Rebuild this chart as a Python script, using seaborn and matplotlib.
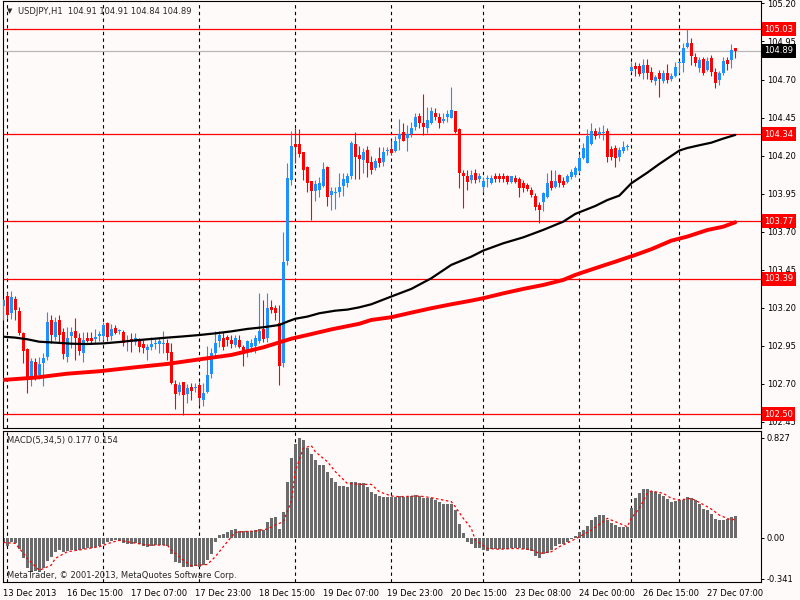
import numpy as np
import matplotlib
matplotlib.use('Agg')
import matplotlib.pyplot as plt
import matplotlib.transforms as mtransforms
import seaborn as sns

# USDJPY H1 candles (one value per bar)
opens = [103.210, 103.277, 103.168, 103.258, 103.181, 103.032, 102.927, 102.736, 102.846, 102.758,
         102.839, 102.879, 103.120, 103.006, 103.120, 103.041, 102.879, 103.014, 103.047, 102.999,
         102.905, 103.001, 103.001, 102.993, 103.012, 103.014, 103.102, 103.014, 103.065, 103.045,
         103.041, 102.979, 102.993, 102.977, 102.984, 102.962, 102.923, 102.945, 102.964, 102.960,
         102.960, 102.966, 102.910, 102.697, 102.647, 102.712, 102.634, 102.682, 102.671, 102.693,
         102.594, 102.647, 102.765, 102.901, 102.980, 103.004, 103.006, 102.988, 102.955, 102.988,
         102.940, 102.910, 102.945, 102.949, 102.982, 103.058, 102.999, 103.207, 103.196, 103.100,
         102.840, 103.510, 104.040, 104.277, 104.277, 104.226, 104.123, 104.033, 103.968, 103.974,
         104.001, 104.123, 103.941, 103.952, 103.961, 104.001, 104.018, 104.066, 104.277, 104.204,
         104.171, 104.237, 104.160, 104.117, 104.182, 104.160, 104.232, 104.241, 104.231, 104.312,
         104.353, 104.314, 104.340, 104.390, 104.460, 104.417, 104.379, 104.412, 104.478, 104.452,
         104.430, 104.452, 104.449, 104.493, 104.373, 104.088, 104.066, 104.040, 104.084, 104.044,
         103.992, 104.046, 104.022, 104.066, 104.066, 104.066, 104.066, 104.029, 104.053, 104.044,
         104.018, 104.007, 103.974, 103.935, 103.876, 103.897, 103.930, 104.036, 103.992, 104.073,
         104.036, 104.029, 104.062, 104.073, 104.101, 104.182, 104.154, 104.274, 104.362, 104.342,
         104.350, 104.362, 104.241, 104.248, 104.193, 104.233, 104.257, 104.758, 104.789, 104.789,
         104.741, 104.795, 104.752, 104.692, 104.745, 104.692, 104.745, 104.701, 104.723, 104.808,
         104.806, 104.916, 104.938, 104.850, 104.773, 104.833, 104.763, 104.839, 104.752, 104.697,
         104.745, 104.828, 104.828, 104.910]
highs = [103.260, 103.306, 103.310, 103.277, 103.207, 103.043, 102.934, 102.868, 102.872, 102.874,
         102.901, 103.172, 103.153, 103.142, 103.153, 103.065, 103.076, 103.076, 103.131, 103.036,
         103.043, 103.043, 103.041, 103.058, 103.045, 103.109, 103.109, 103.091, 103.087, 103.061,
         103.052, 103.021, 103.036, 103.032, 102.999, 102.988, 102.962, 103.006, 102.993, 103.010,
         103.049, 102.993, 102.966, 102.726, 102.715, 102.712, 102.699, 102.704, 102.704, 102.715,
         102.704, 102.949, 102.934, 103.049, 103.047, 103.043, 103.021, 103.021, 103.021, 103.021,
         102.955, 102.988, 102.993, 103.021, 103.295, 103.251, 103.295, 103.251, 103.218, 103.220,
         103.700, 104.150, 104.362, 104.379, 104.375, 104.226, 104.132, 104.033, 104.040, 104.062,
         104.160, 104.132, 103.996, 103.992, 104.084, 104.084, 104.084, 104.296, 104.353, 104.263,
         104.248, 104.263, 104.198, 104.182, 104.259, 104.259, 104.259, 104.303, 104.329, 104.441,
         104.417, 104.401, 104.419, 104.482, 104.482, 104.605, 104.522, 104.522, 104.511, 104.482,
         104.482, 104.500, 104.649, 104.493, 104.379, 104.106, 104.106, 104.106, 104.110, 104.088,
         104.062, 104.073, 104.073, 104.084, 104.084, 104.084, 104.073, 104.066, 104.073, 104.062,
         104.040, 104.022, 103.992, 103.952, 103.897, 103.963, 104.088, 104.106, 104.106, 104.079,
         104.062, 104.079, 104.110, 104.132, 104.211, 104.285, 104.373, 104.412, 104.379, 104.390,
         104.401, 104.384, 104.263, 104.270, 104.259, 104.298, 104.274, 104.817, 104.817, 104.806,
         104.833, 104.833, 104.780, 104.730, 104.763, 104.763, 104.802, 104.745, 104.817, 104.824,
         104.938, 105.030, 104.971, 104.872, 104.846, 104.846, 104.850, 104.861, 104.774, 104.758,
         104.846, 104.846, 104.933, 104.910]
lows = [103.120, 103.131, 103.124, 103.120, 103.021, 102.835, 102.638, 102.686, 102.726, 102.730,
        102.686, 102.857, 102.966, 102.988, 102.977, 102.866, 102.846, 102.934, 102.857, 102.890,
        102.846, 102.977, 102.966, 102.966, 102.982, 102.988, 102.984, 102.988, 103.028, 103.028,
        102.949, 102.918, 102.907, 102.956, 102.912, 102.901, 102.857, 102.923, 102.927, 102.901,
        102.901, 102.857, 102.697, 102.533, 102.627, 102.496, 102.577, 102.594, 102.649, 102.561,
        102.555, 102.638, 102.736, 102.879, 102.945, 102.923, 102.949, 102.934, 102.940, 102.934,
        102.818, 102.879, 102.912, 102.905, 102.966, 102.977, 102.977, 103.164, 103.120, 102.690,
        102.810, 103.480, 104.007, 104.154, 104.193, 104.040, 103.963, 103.777, 103.904, 103.930,
        103.992, 103.869, 103.843, 103.847, 103.930, 103.935, 103.996, 104.044, 104.044, 104.044,
        104.084, 104.062, 104.079, 104.106, 104.123, 104.132, 104.204, 104.204, 104.226, 104.237,
        104.298, 104.233, 104.325, 104.368, 104.379, 104.336, 104.347, 104.408, 104.434, 104.379,
        104.412, 104.423, 104.445, 104.347, 103.985, 103.854, 103.974, 104.018, 104.018, 104.029,
        103.963, 103.996, 104.014, 104.029, 104.029, 104.029, 104.014, 104.018, 104.022, 103.926,
        103.963, 103.970, 103.930, 103.843, 103.760, 103.838, 103.919, 103.974, 103.985, 103.996,
        103.996, 104.018, 104.044, 104.057, 104.084, 104.176, 104.149, 104.270, 104.307, 104.314,
        104.303, 104.160, 104.171, 104.127, 104.167, 104.220, 104.237, 104.752, 104.723, 104.723,
        104.701, 104.701, 104.686, 104.664, 104.583, 104.679, 104.679, 104.692, 104.714, 104.745,
        104.752, 104.905, 104.795, 104.789, 104.752, 104.730, 104.758, 104.723, 104.642, 104.664,
        104.730, 104.763, 104.773, 104.840]
closes = [103.250, 103.150, 103.269, 103.185, 103.036, 102.918, 102.736, 102.853, 102.736, 102.831,
          102.870, 103.107, 103.021, 103.107, 103.021, 102.896, 103.001, 103.041, 103.004, 102.918,
          102.988, 102.984, 102.984, 103.008, 103.030, 103.087, 103.010, 103.061, 103.036, 103.050,
          102.969, 102.984, 102.973, 102.999, 102.940, 102.934, 102.940, 102.962, 102.968, 102.982,
          102.964, 102.905, 102.704, 102.634, 102.690, 102.627, 102.675, 102.656, 102.675, 102.605,
          102.638, 102.758, 102.901, 102.966, 103.019, 102.940, 102.988, 102.962, 103.001, 102.940,
          102.896, 102.982, 102.971, 102.999, 103.047, 102.993, 103.196, 103.185, 103.164, 102.820,
          103.500, 104.050, 104.263, 104.259, 104.211, 104.106, 104.022, 103.968, 104.014, 104.018,
          104.110, 103.930, 103.970, 103.955, 103.996, 104.047, 104.066, 104.285, 104.193, 104.178,
          104.226, 104.154, 104.106, 104.167, 104.154, 104.226, 104.236, 104.220, 104.296, 104.340,
          104.298, 104.340, 104.379, 104.452, 104.417, 104.390, 104.434, 104.493, 104.456, 104.417,
          104.441, 104.474, 104.500, 104.357, 104.084, 104.066, 104.029, 104.073, 104.040, 104.066,
          104.033, 104.047, 104.051, 104.049, 104.047, 104.047, 104.029, 104.066, 104.029, 103.985,
          103.985, 103.978, 103.941, 103.860, 103.843, 103.952, 104.022, 103.985, 104.036, 104.018,
          104.007, 104.066, 104.095, 104.117, 104.182, 104.248, 104.329, 104.362, 104.329, 104.357,
          104.353, 104.193, 104.193, 104.182, 104.237, 104.259, 104.260, 104.784, 104.767, 104.736,
          104.795, 104.745, 104.697, 104.714, 104.701, 104.745, 104.697, 104.723, 104.784, 104.811,
          104.905, 104.942, 104.855, 104.806, 104.828, 104.745, 104.824, 104.752, 104.679, 104.745,
          104.822, 104.802, 104.894, 104.890]

# moving averages (bar index, price)
ma_black_idx = [0, 3, 6, 9, 13, 17, 21, 25, 29, 33, 37, 41, 45, 49, 53, 57, 61, 65, 69, 71, 73, 76,
                79, 83, 86, 89, 92, 97, 102, 107, 112, 117, 120, 125, 130, 135, 140, 143, 148, 151,
                154, 157, 161, 164, 167, 169, 171, 174, 177, 180, 183]
ma_black_val = [103.010, 103.004, 102.993, 102.977, 102.971, 102.964, 102.962, 102.966, 102.975,
                102.986, 102.995, 103.004, 103.012, 103.021, 103.032, 103.045, 103.061, 103.072,
                103.087, 103.109, 103.128, 103.142, 103.164, 103.181, 103.188, 103.203, 103.223,
                103.274, 103.324, 103.394, 103.482, 103.536, 103.576, 103.624, 103.663, 103.712,
                103.766, 103.817, 103.869, 103.908, 103.937, 104.018, 104.088, 104.145, 104.198,
                104.233, 104.250, 104.268, 104.285, 104.312, 104.336]
ma_red_idx = [0, 8, 16, 24, 33, 41, 49, 57, 65, 72, 76, 82, 89, 92, 97, 102, 107, 112, 117, 120,
              125, 130, 135, 140, 143, 148, 153, 158, 162, 167, 171, 176, 180, 183]
ma_red_val = [102.726, 102.741, 102.767, 102.783, 102.809, 102.831, 102.861, 102.890, 102.940,
              102.997, 103.021, 103.058, 103.095, 103.120, 103.138, 103.168, 103.197, 103.223,
              103.247, 103.263, 103.295, 103.324, 103.350, 103.383, 103.416, 103.460, 103.503,
              103.547, 103.585, 103.641, 103.668, 103.711, 103.733, 103.762]

# MACD(5,34,5) histogram, one per bar
macd_hist = [-0.033, -0.066, -0.039, -0.047, -0.094, -0.165, -0.254, -0.281, -0.276, -0.281,
             -0.248, -0.193, -0.157, -0.121, -0.105, -0.121, -0.110, -0.105, -0.099, -0.099,
             -0.094, -0.083, -0.083, -0.074, -0.066, -0.050, -0.036, -0.028, -0.022, -0.028,
             -0.041, -0.050, -0.055, -0.047, -0.055, -0.066, -0.074, -0.066, -0.063, -0.061,
             -0.061, -0.066, -0.138, -0.199, -0.212, -0.240, -0.240, -0.240, -0.237, -0.240,
             -0.226, -0.185, -0.138, -0.039, 0.022, 0.030, 0.050, 0.061, 0.072, 0.055,
             0.055, 0.055, 0.055, 0.061, 0.072, 0.061, 0.127, 0.160, 0.174, 0.072,
             0.210, 0.463, 0.662, 0.772, 0.827, 0.805, 0.744, 0.689, 0.642, 0.601,
             0.601, 0.540, 0.496, 0.463, 0.425, 0.425, 0.419, 0.463, 0.463, 0.449,
             0.449, 0.419, 0.380, 0.358, 0.347, 0.336, 0.336, 0.336, 0.336, 0.342,
             0.336, 0.336, 0.342, 0.353, 0.347, 0.331, 0.331, 0.325, 0.314, 0.292,
             0.281, 0.281, 0.276, 0.229, 0.113, 0.039, -0.033, -0.050, -0.083, -0.088,
             -0.102, -0.110, -0.094, -0.094, -0.094, -0.094, -0.094, -0.088, -0.083, -0.085,
             -0.094, -0.099, -0.108, -0.149, -0.165, -0.138, -0.127, -0.105, -0.066, -0.055,
             -0.055, -0.039, -0.011, 0.017, 0.050, 0.066, 0.099, 0.146, 0.174, 0.187,
             0.187, 0.149, 0.121, 0.105, 0.088, 0.088, 0.088, 0.248, 0.331, 0.369,
             0.403, 0.403, 0.386, 0.375, 0.358, 0.342, 0.320, 0.298, 0.303, 0.309,
             0.309, 0.336, 0.325, 0.309, 0.281, 0.237, 0.226, 0.193, 0.154, 0.149,
             0.149, 0.154, 0.170, 0.177]
signal_idx = [0, 3, 6, 9, 12, 13, 16, 20, 24, 27, 29, 32, 36, 41, 42, 45, 47, 51, 53, 56, 58, 60,
              63, 66, 68, 70, 72, 73, 75, 77, 78, 81, 83, 86, 89, 92, 94, 97, 99, 104, 107, 112,
              113, 115, 117, 118, 121, 124, 128, 132, 134, 137, 139, 142, 144, 147, 149, 151, 152,
              154, 156, 157, 159, 161, 162, 165, 167, 169, 172, 174, 177, 179, 182, 183]
signal_val = [-0.039, -0.047, -0.171, -0.270, -0.226, -0.171, -0.116, -0.096, -0.074, -0.039,
              -0.022, -0.039, -0.061, -0.061, -0.102, -0.185, -0.232, -0.221, -0.157, -0.033,
              0.044, 0.050, 0.055, 0.072, 0.105, 0.132, 0.300, 0.550, 0.739, 0.761, 0.711, 0.629,
              0.546, 0.449, 0.441, 0.441, 0.380, 0.345, 0.339, 0.345, 0.331, 0.298, 0.256, 0.160,
              0.077, -0.019, -0.088, -0.096, -0.088, -0.099, -0.130, -0.116, -0.074, -0.028,
              0.008, 0.063, 0.110, 0.160, 0.146, 0.119, 0.091, 0.160, 0.243, 0.367, 0.386, 0.367,
              0.325, 0.312, 0.325, 0.292, 0.237, 0.187, 0.146, 0.154]

level_prices = [105.03, 104.34, 103.77, 103.39, 102.50]
last_price = 104.89
day_breaks = [1, 25, 49, 73, 97, 120, 144, 157, 169]
time_ticks = [0, 16, 32, 48, 64, 80, 96, 112, 128, 144, 160, 176]
time_labels = ['13 Dec 2013', '16 Dec 15:00', '17 Dec 07:00', '17 Dec 23:00', '18 Dec 15:00',
               '19 Dec 07:00', '19 Dec 23:00', '20 Dec 15:00', '23 Dec 08:00', '24 Dec 00:00',
               '26 Dec 15:00', '27 Dec 07:00']
price_ticks = [105.20, 104.95, 104.70, 104.45, 104.20, 103.95, 103.70, 103.45, 103.20, 102.95,
               102.70, 102.45]
macd_ticks = [0.827, 0.0, -0.341]
macd_tick_labels = ['0.827', '0.00', '-0.341']

bg = '#FFFAFA'
bull = '#1E90FF'
bear = '#FF0000'

sns.set_style('white', {'axes.facecolor': bg, 'figure.facecolor': bg})
plt.rcParams['font.family'] = ['DejaVu Sans']
fs = 6

fig = plt.figure(figsize=(8, 6), dpi=100, facecolor=bg)
ax = fig.add_axes([2.7 / 800, 172 / 600, 758 / 800, 427 / 600])
axm = fig.add_axes([2.7 / 800, 18 / 600, 758 / 800, 151 / 600])

o = np.array(opens)
h = np.array(highs)
l = np.array(lows)
c = np.array(closes)
idx = np.arange(len(o))
cols = np.where(c >= o, bull, bear)

# day separators
for a in (ax, axm):
    for d in day_breaks:
        a.axvline(d, color='black', lw=0.8, ls=(0, (3, 3)), zorder=1)

for p in level_prices:
    ax.axhline(p, color='red', lw=0.9, zorder=1)
ax.axhline(last_price, color='#B8B8B8', lw=0.9, zorder=1)

# candles
ax.vlines(idx, l, h, colors=cols, lw=0.8, zorder=3)
body = np.maximum(np.abs(c - o), 0.006)
ax.bar(idx, body, bottom=np.minimum(o, c), width=0.75, color=cols, linewidth=0, zorder=3)

sns.lineplot(x=ma_black_idx, y=ma_black_val, ax=ax, color='black', linewidth=1.6, zorder=4)
sns.lineplot(x=ma_red_idx, y=ma_red_val, ax=ax, color='red', linewidth=2.8, zorder=4)

ax.set_xlim(-0.15, 189.35)
ax.set_ylim(102.410, 105.216)
ax.set_xticks([])
ax.yaxis.tick_right()
ax.set_yticks(price_ticks)
ax.set_yticklabels([f'{v:.2f}' for v in price_ticks])
ax.tick_params(axis='y', direction='out', length=2.5, width=0.7, pad=2, labelsize=fs, colors='black')
ax.set_xlabel('')
ax.set_ylabel('')

trans = mtransforms.blended_transform_factory(ax.transAxes, ax.transData)
for p in level_prices:
    ax.text(1.0045, p, f'{p:.2f}', transform=trans, ha='left', va='center', color='white',
            fontsize=fs, clip_on=False, zorder=10,
            bbox=dict(boxstyle='square,pad=0.3', fc='red', ec='none'))
ax.text(1.0045, last_price, f'{last_price:.2f}', transform=trans, ha='left', va='center',
        color='white', fontsize=fs, clip_on=False, zorder=10,
        bbox=dict(boxstyle='square,pad=0.3', fc='black', ec='none'))

# MACD panel
axm.bar(idx, macd_hist, width=0.75, color='#6B6B6B', linewidth=0, zorder=2)
sns.lineplot(x=signal_idx, y=signal_val, ax=axm, color='red', linewidth=0.9,
             linestyle=(0, (2, 2)), zorder=3)
axm.set_xlim(-0.15, 189.35)
axm.set_ylim(-0.366, 0.882)
axm.yaxis.tick_right()
axm.set_yticks(macd_ticks)
axm.set_yticklabels(macd_tick_labels)
axm.set_xticks(time_ticks)
axm.set_xticklabels(time_labels, ha='left')
axm.tick_params(axis='y', direction='out', length=2.5, width=0.7, pad=2, labelsize=fs, colors='black')
axm.tick_params(axis='x', direction='out', length=3, width=0.7, pad=2, labelsize=fs, colors='black')
axm.set_xlabel('')
axm.set_ylabel('')

for a in (ax, axm):
    for s in a.spines.values():
        s.set_visible(True)
        s.set_color('black')
        s.set_linewidth(0.8)

fig.text(7 / 800, 1 - 11 / 600, '\u25bc', fontsize=5, va='center', ha='left')
fig.text(18 / 800, 1 - 11 / 600, 'USDJPY,H1  104.91 104.91 104.84 104.89', fontsize=fs,
         va='center', ha='left')
fig.text(7 / 800, 1 - 441 / 600, 'MACD(5,34,5) 0.177 0.154', fontsize=fs, va='center', ha='left')
fig.text(7 / 800, 1 - 575 / 600, 'MetaTrader, \u00a9 2001-2013, MetaQuotes Software Corp.',
         fontsize=fs, va='center', ha='left')

fig.savefig('out.png', dpi=100, facecolor=bg)
